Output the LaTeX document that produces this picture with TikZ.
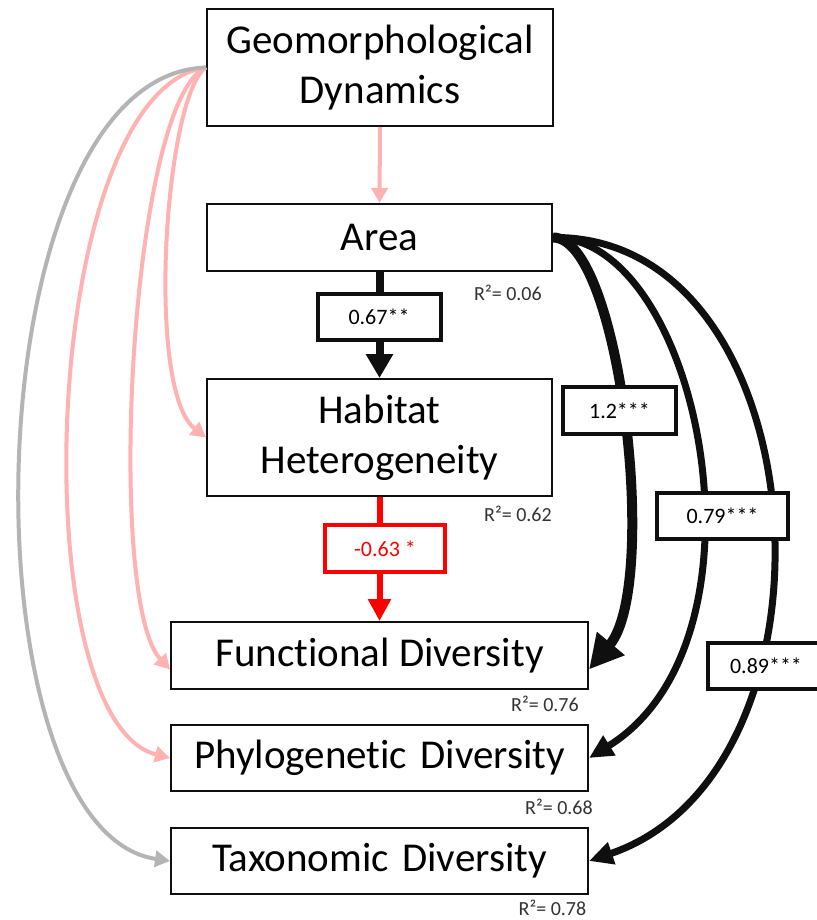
\documentclass[tikz,border=0pt]{standalone}
\usepackage{fontspec}
\setmainfont[Ligatures=NoCommon]{Carlito}
\usetikzlibrary{arrows.meta,calc}
\definecolor{pinkc}{RGB}{255,178,178}
\definecolor{grayc}{RGB}{180,180,180}
\definecolor{redc}{RGB}{255,0,0}
\definecolor{blk}{RGB}{15,15,15}
\tikzset{
  box/.style={draw=blk, line width=2pt, fill=white, inner sep=0pt, align=center,
    font=\fontsize{41}{50}\selectfont},
  lab/.style={draw=blk, line width=4pt, fill=white, inner sep=0pt,
    minimum height=46pt, font=\fontsize{22}{26}\selectfont},
  rsq/.style={inner sep=0pt, font=\fontsize{20}{24}\selectfont, text=blk!85},
  pinkarr/.style={draw=pinkc, line width=4pt, -{Triangle[length=15pt,width=16pt]}},
  grayarr/.style={draw=grayc, line width=4pt, -{Triangle[length=15pt,width=16pt]}},
  vblk/.style={draw=blk, line width=8pt, -{Triangle[length=24pt,width=26pt]}},
  vred/.style={draw=redc, line width=6pt, -{Triangle[length=22pt,width=22pt]}},
  bigarr/.style={draw=blk, line width=10pt, -{Triangle[length=34pt,width=34pt]}},
  midarr/.style={draw=blk, line width=7pt, -{Triangle[length=24pt,width=22pt]}},
}
\begin{document}
\begin{tikzpicture}[x=1pt,y=-1pt]
\useasboundingbox[fill=white] (0,0) rectangle (816,920);

% main boxes
\node[box, minimum width=346pt, minimum height=117pt] (geo) at (380,67.5) {Geomorphological\\Dynamics};
\node[box, minimum width=345pt, minimum height=67pt] (area) at (379.5,237.5) {Area};
\node[box, minimum width=345pt, minimum height=117pt] (hab) at (379.5,437.5) {Habitat\\Heterogeneity};
\node[box, minimum width=417pt, minimum height=67pt] (func) at (379.5,655.5) {Functional Diversity};
\node[box, minimum width=417pt, minimum height=66pt] (phylo) at (379.5,758) {Phylogenetic\hspace{4pt} Diversity};
\node[box, minimum width=417pt, minimum height=66pt] (taxo) at (379.5,861) {Taxonomic\hspace{4pt} Diversity};

\coordinate (fL) at ([yshift=-14pt]func.west);
\coordinate (fR) at ([yshift=-14pt]func.east);

% R^2 labels
\node[rsq] (r1) at (508,293) {R²= 0.06};
\node[rsq] (r2) at (518,514) {R²= 0.62};
\node[rsq] (r3) at (545,704) {R²= 0.76};
\node[rsq] (r4) at (559,807) {R²= 0.68};
\node[rsq] (r5) at (552.5,908) {R²= 0.78};

% left side arrows from geomorphological dynamics
\draw[pinkarr] (geo.south) -- (area.north);
\draw[pinkarr] (geo.west) .. controls (165,95) and (145,390) .. (hab.west);
\draw[pinkarr] (geo.west) .. controls (130,100) and (105,600) .. (fL);
\draw[pinkarr] (geo.west) .. controls (40,90) and (20,720) .. (phylo.west);
\draw[grayarr] (geo.west) .. controls (-30,75) and (-40,830) .. (taxo.west);

% vertical arrows
\draw[vblk] (area.south) -- (hab.north);
\draw[vred] (hab.south) -- (func.north);

% right side arrows from area
\draw[bigarr] (area.east) .. controls (620,237) and (660,585) .. (fR);
\draw[midarr] (area.east) .. controls (700,237) and (780,640) .. (phylo.east);
\draw[midarr] (area.east) .. controls (820,235) and (855,770) .. (taxo.east);

% coefficient labels
\node[lab, minimum width=123pt] (c1) at (379,317) {0.67**};
\node[lab, draw=redc, text=redc, minimum width=120pt, minimum height=47pt] (c2) at (385,548.5) {-0.63 *};
\node[lab, minimum width=113pt, minimum height=47pt] (c3) at (619.5,410.5) {1.2***};
\node[lab, minimum width=131pt] (c4) at (722.5,516) {0.79***};
\node[lab, minimum width=116pt] (c5) at (766,666) {0.89***};
\end{tikzpicture}
\end{document}
